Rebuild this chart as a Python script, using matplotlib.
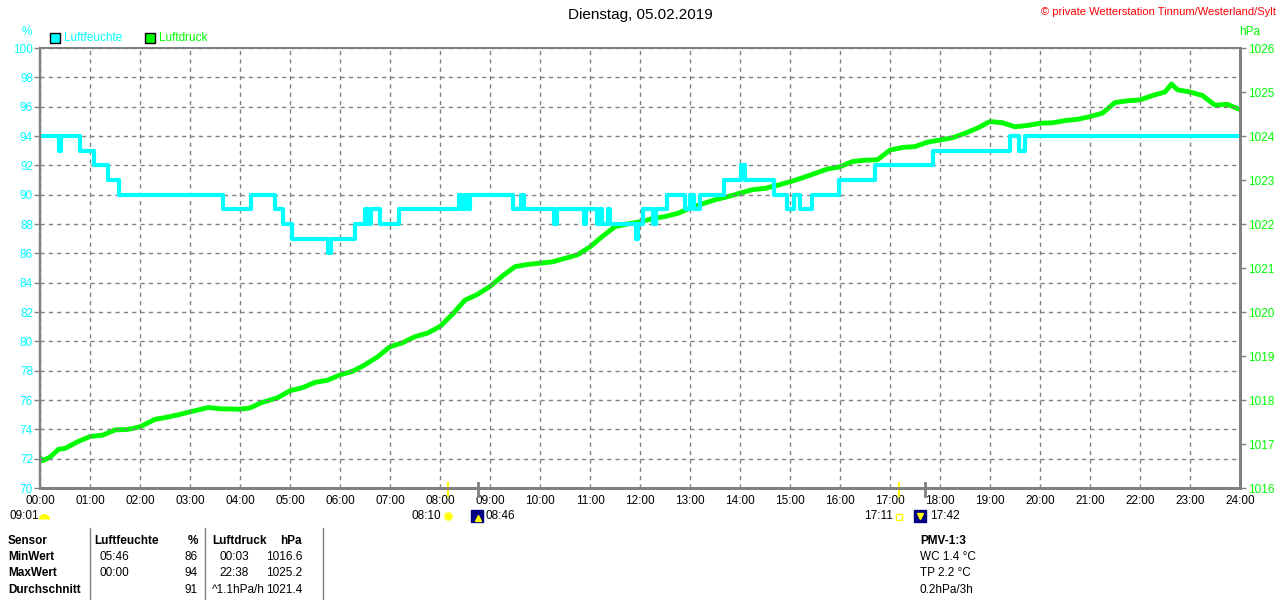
import numpy as np
import matplotlib
matplotlib.use("Agg")
from matplotlib import pyplot as plt
from matplotlib import transforms
from matplotlib.patches import Rectangle
from matplotlib.lines import Line2D

plt.rcParams['font.family'] = ['Liberation Sans', 'DejaVu Sans']

# humidity (%) as steps: time in hours, value from that time on
hum_t = [0, 0.38, 0.42, 0.79, 1.08, 1.35, 1.58, 3.65, 4.21, 4.70, 4.85, 5.03,
         5.76, 5.82, 6.30, 6.50, 6.56, 6.62, 6.80, 7.17, 8.38, 8.43, 8.50,
         8.55, 8.60, 9.45, 9.62, 9.67, 10.27, 10.33, 10.88, 10.92, 11.13,
         11.20, 11.24, 11.35, 11.40, 11.92, 11.96, 12.05, 12.25, 12.31, 12.53,
         12.90, 13.00, 13.07, 13.20, 13.68, 14.02, 14.10, 14.67, 14.93, 15.07,
         15.20, 15.43, 15.97, 16.70, 17.85, 19.40, 19.58, 19.70, 24.0]
hum_v = [94, 93, 94, 93, 92, 91, 90, 89, 90, 89, 88, 87,
         86, 87, 88, 89, 88, 89, 88, 89, 90, 89, 90,
         89, 90, 89, 90, 89, 88, 89, 88, 89, 88,
         89, 88, 89, 88, 87, 88, 89, 88, 89, 90,
         89, 90, 89, 90, 91, 92, 91, 90, 89, 90,
         89, 90, 91, 92, 93, 94, 93, 94, 94]

# air pressure (hPa)
pres_t = [0, 0.05, 0.2, 0.37, 0.5, 0.75, 1.0, 1.25, 1.5, 1.75, 2.0, 2.3, 2.5,
          2.75, 3.0, 3.37, 3.6, 4.0, 4.2, 4.43, 4.75, 5.0, 5.25, 5.5, 5.75,
          6.0, 6.25, 6.5, 6.75, 7.0, 7.25, 7.5, 7.75, 8.0, 8.25, 8.5, 8.75,
          9.0, 9.25, 9.5, 9.75, 10.0, 10.25, 10.5, 10.75, 11.0, 11.25, 11.5,
          11.75, 12.0, 12.25, 12.5, 12.75, 13.0, 13.25, 13.5, 13.75, 14.0,
          14.25, 14.5, 14.75, 15.0, 15.25, 15.5, 15.75, 16.0, 16.25, 16.5,
          16.75, 17.0, 17.25, 17.5, 17.75, 18.0, 18.25, 18.5, 18.75, 19.0,
          19.25, 19.5, 19.75, 20.0, 20.25, 20.5, 20.75, 21.0, 21.25, 21.5,
          21.75, 22.0, 22.25, 22.5, 22.63, 22.75, 23.0, 23.25, 23.5, 23.75,
          24.0]
pres_v = [1016.68, 1016.62, 1016.70, 1016.88, 1016.90, 1017.05, 1017.17,
          1017.20, 1017.32, 1017.33, 1017.39, 1017.56, 1017.60, 1017.66,
          1017.73, 1017.83, 1017.80, 1017.79, 1017.82, 1017.94, 1018.05,
          1018.21, 1018.28, 1018.40, 1018.45, 1018.57, 1018.65, 1018.80,
          1018.98, 1019.21, 1019.30, 1019.44, 1019.52, 1019.67, 1019.95,
          1020.27, 1020.40, 1020.58, 1020.82, 1021.03, 1021.08, 1021.11,
          1021.14, 1021.22, 1021.30, 1021.48, 1021.72, 1021.94, 1022.00,
          1022.05, 1022.12, 1022.17, 1022.24, 1022.36, 1022.46, 1022.55,
          1022.62, 1022.70, 1022.78, 1022.81, 1022.88, 1022.96, 1023.05,
          1023.15, 1023.25, 1023.30, 1023.42, 1023.45, 1023.46, 1023.68,
          1023.74, 1023.76, 1023.86, 1023.91, 1023.96, 1024.06, 1024.18,
          1024.33, 1024.30, 1024.21, 1024.24, 1024.29, 1024.30, 1024.35,
          1024.38, 1024.44, 1024.52, 1024.76, 1024.80, 1024.82, 1024.92,
          1025.00, 1025.18, 1025.05, 1025.00, 1024.92, 1024.70, 1024.72,
          1024.60]

hours = list(range(25))
hour_labels = ["%02d:00" % h for h in hours]
hum_ticks = list(range(70, 101, 2))
pres_ticks = list(range(1016, 1027))

# sun / moon events (hours)
sunrise, sunset = 8 + 10 / 60, 17 + 11 / 60
moon_up, moon_down = 8 + 46 / 60, 17 + 42 / 60

table_rows = [
    ["MinWert", "05:46", "86", "00:03", "1016.6"],
    ["MaxWert", "00:00", "94", "22:38", "1025.2"],
    ["Durchschnitt", "", "91", "^1.1hPa/h", "1021.4"],
]
pmv_lines = ["WC 1.4 \u00b0C", "TP 2.2 \u00b0C", "0.2hPa/3h"]

CYAN = "#00FFFF"
GREEN = "#00FF00"
GRAY = "#808080"
FS = 8.5
SUN_Y = 516

W, H = 1280, 600
fig = plt.figure(figsize=(W / 100, H / 100), dpi=100)


def fx(px):
    return px / W


def fy(py):
    return 1 - py / H


ax = fig.add_axes([fx(40), fy(488), 1200 / W, 440 / H])
ax2 = ax.twinx()
ax.set_zorder(ax2.get_zorder() + 1)
ax.patch.set_visible(False)

ax2.plot(pres_t, pres_v, color=GREEN, lw=3.5)
ax.plot(hum_t, hum_v, color=CYAN, lw=3, drawstyle='steps-post')

ax.set_xlim(0, 24)
ax.set_ylim(70, 100)
ax2.set_ylim(1016, 1026)

ax.set_xticks(hours)
ax.set_xticklabels(hour_labels, fontsize=FS)
ax.set_yticks(hum_ticks)
ax.set_yticklabels([str(v) for v in hum_ticks], fontsize=FS, color=CYAN)
ax2.set_yticks(pres_ticks)
ax2.set_yticklabels([str(v) for v in pres_ticks], fontsize=FS, color=GREEN)

ax.tick_params(axis='x', length=0, pad=5)
ax.tick_params(axis='y', length=4, width=1, color=GRAY, pad=1)
ax2.tick_params(axis='y', length=4, width=1, color=GRAY, pad=2)

ax.grid(True, color=GRAY, linestyle=(0, (3, 3)), lw=1)

for a in (ax, ax2):
    for s in a.spines.values():
        s.set_color(GRAY)
    a.spines['left'].set_linewidth(1.6)
    a.spines['bottom'].set_linewidth(2)
    a.spines['right'].set_linewidth(2)
    a.spines['top'].set_linewidth(1.4)

# titles
fig.text(0.5, fy(15), "Dienstag, 05.02.2019", ha='center', va='center',
         fontsize=11)
fig.text(fx(1276), fy(12), "\u00a9 private Wetterstation Tinnum/Westerland/Sylt",
         ha='right', va='center', fontsize=8, color='red')
fig.text(fx(27), fy(32), "%", ha='center', va='center', fontsize=FS, color=CYAN)
fig.text(fx(1250), fy(32), "hPa", ha='center', va='center', fontsize=FS,
         color=GREEN)

# legend
fig.patches.append(Rectangle((fx(50), fy(43)), 10 / W, 10 / H, transform=fig.transFigure,
                             facecolor=CYAN, edgecolor='black', lw=1))
fig.text(fx(64), fy(38), "Luftfeuchte", va='center', fontsize=FS, color=CYAN)
fig.patches.append(Rectangle((fx(145), fy(43)), 10 / W, 10 / H, transform=fig.transFigure,
                             facecolor=GREEN, edgecolor='black', lw=1))
fig.text(fx(159), fy(38), "Luftdruck", va='center', fontsize=FS, color=GREEN)

# sun and moon marks below the time axis
tr = transforms.blended_transform_factory(ax.transData, fig.transFigure)
for t, c, w in ((sunrise, 'yellow', 1.5), (sunset, 'yellow', 1.5),
                (moon_up, GRAY, 2), (moon_down, GRAY, 2)):
    ax.plot([t, t], [fy(483), fy(496)], color=c, lw=w, transform=tr,
            clip_on=False)

ax.text(sunrise - 0.14, fy(SUN_Y), "08:10", ha='right', va='center',
        fontsize=FS, transform=tr)
ax.plot([sunrise], [fy(SUN_Y)], marker='o', ms=6, color='yellow',
        mec='#ffff80', transform=tr, clip_on=False)
ax.plot([moon_up - 0.03], [fy(SUN_Y)], marker='s', ms=8, color='#000080',
        transform=tr, clip_on=False)
ax.plot([moon_up], [fy(SUN_Y + 2)], marker='^', ms=4, color='yellow',
        transform=tr, clip_on=False)
ax.text(moon_up + 0.15, fy(SUN_Y), "08:46", ha='left', va='center',
        fontsize=FS, transform=tr)

ax.text(sunset - 0.13, fy(SUN_Y), "17:11", ha='right', va='center',
        fontsize=FS, transform=tr)
ax.plot([sunset], [fy(SUN_Y + 1)], marker='s', ms=4, mfc='none', mec='yellow',
        transform=tr, clip_on=False)
ax.plot([moon_down - 0.1], [fy(SUN_Y)], marker='s', ms=8, color='#000080',
        transform=tr, clip_on=False)
ax.plot([moon_down - 0.1], [fy(SUN_Y)], marker='v', ms=4, color='yellow',
        transform=tr, clip_on=False)
ax.text(moon_down + 0.1, fy(SUN_Y), "17:42", ha='left', va='center',
        fontsize=FS, transform=tr)

fig.text(fx(9), fy(SUN_Y), "09:01", ha='left', va='center', fontsize=FS)
fig.add_artist(Line2D([fx(44)], [fy(SUN_Y + 3)], marker='o', ms=8,
                      color='yellow', fillstyle='top',
                      markerfacecoloralt='none', mew=0))

# statistics table
rows_y = [541, 557, 573, 590]
hdr = dict(fontsize=FS, fontweight='bold', va='center')
fig.text(fx(8), fy(rows_y[0]), "Sensor", **hdr)
fig.text(fx(94), fy(rows_y[0]), "Luftfeuchte", **hdr)
fig.text(fx(198), fy(rows_y[0]), "%", ha='right', **hdr)
fig.text(fx(212), fy(rows_y[0]), "Luftdruck", **hdr)
fig.text(fx(302), fy(rows_y[0]), "hPa", ha='right', **hdr)
for row, y in zip(table_rows, rows_y[1:]):
    fig.text(fx(8), fy(y), row[0], **hdr)
    fig.text(fx(100), fy(y), row[1], va='center', fontsize=FS)
    fig.text(fx(198), fy(y), row[2], ha='right', va='center', fontsize=FS)
    x3 = 212 if row[3].startswith('^') else 219
    fig.text(fx(x3), fy(y), row[3], va='center', fontsize=FS)
    fig.text(fx(302), fy(y), row[4], ha='right', va='center', fontsize=FS)
for sx in (90, 205, 323):
    fig.add_artist(Line2D([fx(sx), fx(sx)], [fy(528), fy(600)], color=GRAY,
                          lw=1))

fig.text(fx(920), fy(rows_y[0]), "PMV-1:3", **hdr)
for txt, y in zip(pmv_lines, rows_y[1:]):
    fig.text(fx(920), fy(y), txt, va='center', fontsize=FS)

fig.savefig("out.png", dpi=100, facecolor='white')
